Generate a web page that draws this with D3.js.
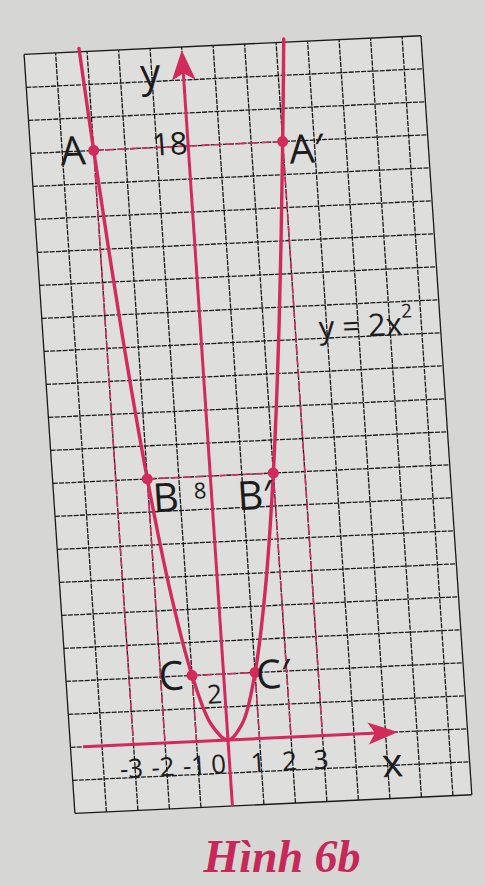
<!DOCTYPE html>
<html>
<head>
<meta charset="utf-8">
<script src="https://cdn.jsdelivr.net/npm/d3@7"></script>
<style>
  html, body { margin: 0; padding: 0; background: #d6d6d4; }
  svg { display: block; }
</style>
</head>
<body>
<div id="chart"></div>
<script>
// Parabola y = 2x^2
const curveX = [-3.25, -3, -2.5, -2, -1.5, -1, -0.5, 0, 0.5, 1, 1.5, 2, 2.5, 3, 3.25];
const curveY = [21.1, 18, 12.5, 8, 4.5, 2, 0.5, 0, 0.5, 2, 4.5, 8, 12.5, 18, 21.1];

const pointNames = ['A', 'B', 'C', 'A\u2032', 'B\u2032', 'C\u2032'];
const pointX = [-3, -2, -1, 3, 2, 1];
const pointY = [18, 8, 2, 18, 8, 2];

const xTicks = [-3, -2, -1, 0, 1, 2, 3];
const xTickLabels = ['-3', '-2', '-1', '0', '1', '2', '3'];
const yTicks = [18, 8, 2];
const yTickLabels = ['18', '8', '2'];

const equationText = 'y = 2x';
const captionText = 'H\u00ecnh 6b';

const width = 485, height = 886;
const red = '#d32a5c';
const ink = '#1a1a1a';

const svg = d3.select('#chart').append('svg')
    .attr('width', width)
    .attr('height', height);

svg.append('rect')
    .attr('width', width)
    .attr('height', height)
    .attr('fill', '#d6d6d4');

// grid extents in units
const xMin = -5, xMax = 7.6, yMin = -2, yMax = 21;

const x = d3.scaleLinear().domain([0, 1]).range([0, 31.5]);
const y = d3.scaleLinear().domain([0, 1]).range([0, -33]);

// photo is slightly sheared, keep that in one group transform
const g = svg.append('g')
    .attr('transform', 'matrix(1,-0.047,0.067,1,228,740)');

// paper inside the grid
g.append('rect')
    .attr('x', x(xMin))
    .attr('y', y(yMax))
    .attr('width', x(xMax) - x(xMin))
    .attr('height', y(yMin) - y(yMax))
    .attr('fill', '#dededc');

// grid lines
const vLines = d3.range(xMin, 8).concat([xMax]);
const hLines = d3.range(yMin, yMax + 1);

g.append('g').selectAll('line')
    .data(vLines)
    .join('line')
    .attr('x1', d => x(d)).attr('x2', d => x(d))
    .attr('y1', y(yMin)).attr('y2', y(yMax))
    .attr('stroke', ink)
    .attr('stroke-width', 1.3)
    .attr('stroke-dasharray', (d, i) => (i === 0 || d === xMax) ? null : '5,1.2');

g.append('g').selectAll('line')
    .data(hLines)
    .join('line')
    .attr('x1', x(xMin)).attr('x2', x(xMax))
    .attr('y1', d => y(d)).attr('y2', d => y(d))
    .attr('stroke', ink)
    .attr('stroke-width', 1.3)
    .attr('stroke-dasharray', (d, i) => (i === 0 || d === yMax) ? null : '5,1.2');

// dashed guides from points
const guides = g.append('g')
    .attr('stroke', red)
    .attr('stroke-width', 1.6)
    .attr('stroke-dasharray', '8,4')
    .attr('fill', 'none');

pointX.forEach((px, i) => {
    guides.append('line')
        .attr('x1', x(px)).attr('x2', x(px))
        .attr('y1', y(pointY[i])).attr('y2', y(0));
});
for (let i = 0; i < 3; i++) {
    guides.append('line')
        .attr('x1', x(pointX[i])).attr('x2', x(pointX[i + 3]))
        .attr('y1', y(pointY[i])).attr('y2', y(pointY[i + 3]));
}

// axes
const axisTipY = 20.9, axisTipX = 5.4;
g.append('line')
    .attr('x1', x(0)).attr('x2', x(0))
    .attr('y1', y(yMin)).attr('y2', y(axisTipY) + 20)
    .attr('stroke', red).attr('stroke-width', 3);
g.append('path')
    .attr('d', `M${x(0)},${y(axisTipY)} L${x(0) + 12},${y(axisTipY) + 30} L${x(0)},${y(axisTipY) + 23} L${x(0) - 12},${y(axisTipY) + 30} Z`)
    .attr('fill', red);

g.append('line')
    .attr('x1', x(-4.6)).attr('x2', x(axisTipX) - 20)
    .attr('y1', y(0)).attr('y2', y(0))
    .attr('stroke', red).attr('stroke-width', 3);
g.append('path')
    .attr('d', `M${x(axisTipX)},${y(0)} L${x(axisTipX) - 30},${y(0) - 11} L${x(axisTipX) - 23},${y(0)} L${x(axisTipX) - 30},${y(0) + 11} Z`)
    .attr('fill', red);

// parabola
const line = d3.line()
    .x((d, i) => x(d))
    .y((d, i) => y(curveY[i]))
    .curve(d3.curveCatmullRom.alpha(0.5));

g.append('path')
    .attr('d', line(curveX))
    .attr('fill', 'none')
    .attr('stroke', red)
    .attr('stroke-width', 3.4)
    .attr('stroke-linecap', 'round');

// points
g.append('g').selectAll('circle')
    .data(pointX)
    .join('circle')
    .attr('cx', d => x(d))
    .attr('cy', (d, i) => y(pointY[i]))
    .attr('r', 5.5)
    .attr('fill', red);

// text
const font = '"Open Sans", "Noto Sans", sans-serif';
const text = (px, py, dx, dy, str, size, anchor) => g.append('text')
    .attr('x', x(px) + dx)
    .attr('y', y(py) + dy)
    .attr('text-anchor', anchor || 'middle')
    .attr('dominant-baseline', 'central')
    .attr('font-family', font)
    .attr('font-size', size)
    .attr('fill', '#1c1c1c')
    .text(str);

// point labels: offsets A, B, C, A', B', C'
const labelDx = [-21, 17, -21, 23, -20, 18];
const labelDy = [-2, 18, -2, 7, 20, 1];
pointNames.forEach((n, i) => text(pointX[i], pointY[i], labelDx[i], labelDy[i], n, 40));

// y values on the axis
const yLabelX = [-0.58, -0.36, -0.33];
const yLabelDy = [-4, 13, 19];
const yLabelSize = [31, 22, 26];
yTicks.forEach((t, i) => text(yLabelX[i], t, 0, yLabelDy[i], yTickLabels[i], yLabelSize[i]));

// x tick labels
xTicks.forEach((t, i) => {
    const neg = t < 0;
    const dx = neg ? 8 : (t === 0 ? -11 : -3);
    text(t, 0, dx, 23, xTickLabels[i], 26, neg ? 'end' : 'middle');
});

// axis names
text(0, 20.3, -33, 0, 'y', 40);
text(5.15, 0, 0, 29, 'x', 40);

// equation
const eq = text(5.24, 12.36, 0, 0, equationText, 31);
eq.append('tspan')
    .attr('dy', -12)
    .attr('font-size', 19)
    .text('2');

// caption
svg.append('text')
    .attr('x', 282)
    .attr('y', 872)
    .attr('text-anchor', 'middle')
    .attr('font-family', '"Liberation Serif", "DejaVu Serif", serif')
    .attr('font-style', 'italic')
    .attr('font-weight', 'bold')
    .attr('font-size', 46)
    .attr('fill', '#c6285a')
    .text(captionText);
</script>
</body>
</html>
